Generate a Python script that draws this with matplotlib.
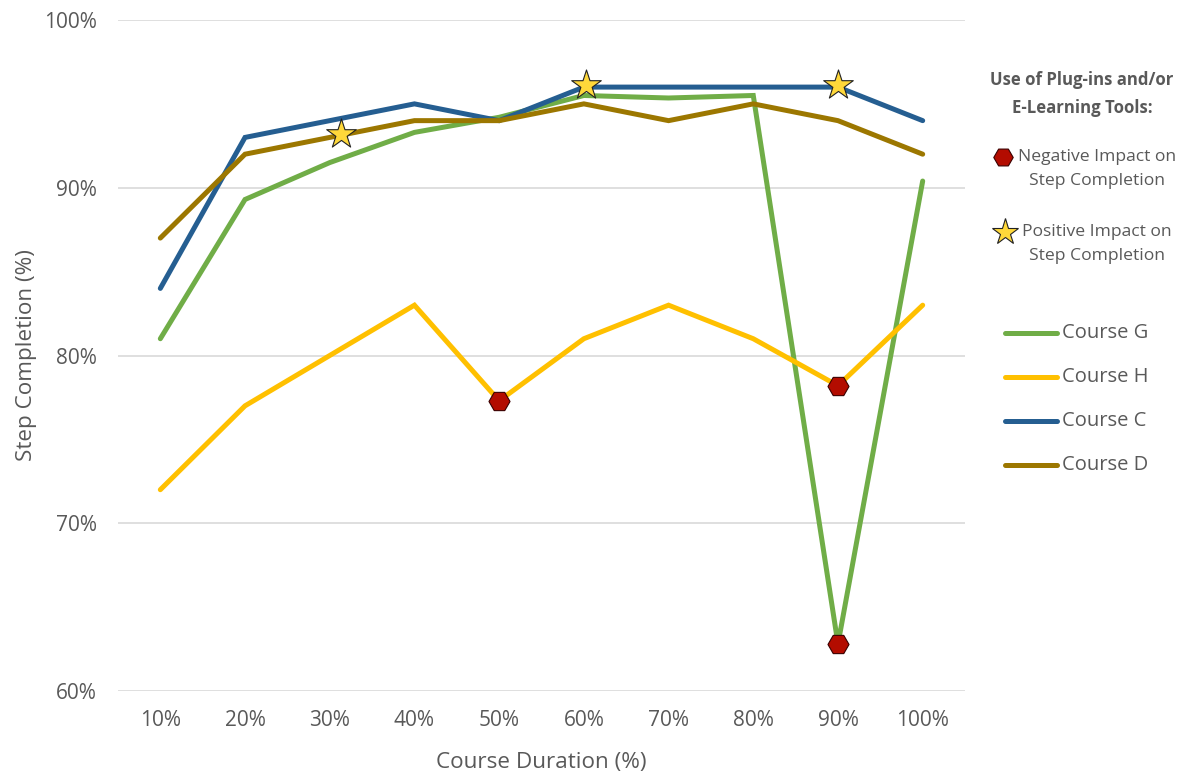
#!/usr/bin/env python3
# -*- coding: utf-8 -*-
"""Step completion vs course duration, with plug-in impact markers."""

import matplotlib
matplotlib.use("Agg")
import matplotlib.pyplot as plt
from matplotlib.lines import Line2D

plt.rcParams['font.family'] = ['Open Sans', 'DejaVu Sans']

# data
durations = ['10%', '20%', '30%', '40%', '50%', '60%', '70%', '80%', '90%', '100%']
course_g = [81.0, 89.3, 91.5, 93.3, 94.2, 95.5, 95.35, 95.5, 62.8, 90.4]
course_h = [72.0, 77.0, 80.0, 83.0, 77.3, 81.0, 83.0, 81.0, 78.2, 83.0]
course_c = [84.0, 93.0, 94.0, 95.0, 94.0, 96.0, 96.0, 96.0, 96.0, 94.0]
course_d = [87.0, 92.0, 93.0, 94.0, 94.0, 95.0, 94.0, 95.0, 94.0, 92.0]

series_names = ['Course G', 'Course H', 'Course C', 'Course D']
series_colors = ['#70AD47', '#FFC000', '#255E91', '#9C7700']

# impact markers (x as category index, y in %)
negative_x = [4.0, 8.0, 8.0]
negative_y = [77.3, 78.2, 62.8]
positive_x = [2.13, 5.03, 8.0]
positive_y = [93.2, 96.1, 96.1]

TEXT = '#595959'
RED = '#B30C00'
STAR = '#FFD83A'

fig = plt.figure(figsize=(12, 7.84), dpi=100)
ax = fig.add_axes([0.0983, 0.1186, 0.7059, 0.8559])

x = list(range(len(durations)))
for vals, name, col in zip([course_g, course_h, course_c, course_d], series_names, series_colors):
    ax.plot(x, vals, color=col, lw=3.6, solid_capstyle='round',
            solid_joinstyle='miter', label=name, zorder=3)

ax.scatter(negative_x, negative_y, marker='H', s=230, color=RED,
           edgecolor='#3a0000', linewidths=0.8, zorder=5)
ax.scatter(positive_x, positive_y, marker='*', s=500, color=STAR,
           edgecolor='#222222', linewidths=0.8, zorder=5)

ax.set_xlim(-0.5, len(durations) - 0.5)
ax.set_ylim(60, 100)
ax.set_xticks(x)
ax.set_xticklabels(durations)
ax.set_yticks([60, 70, 80, 90, 100])
ax.set_yticklabels([f'{v}%' for v in [60, 70, 80, 90, 100]])
ax.tick_params(axis='both', length=0, labelsize=15, colors=TEXT)
ax.tick_params(axis='x', pad=14)
ax.tick_params(axis='y', pad=15)
ax.grid(axis='y', color='#D9D9D9', lw=1.2)
ax.set_axisbelow(True)
for s in ax.spines.values():
    s.set_visible(False)

ax.set_xlabel('Course Duration (%)', fontsize=16.2, color=TEXT, labelpad=15)
ax.set_ylabel('Step Completion (%)', fontsize=16.2, color=TEXT, labelpad=5)

# legend block on the right
fig.text(1082 / 1200, 1 - 94 / 784, 'Use of Plug-ins and/or\nE-Learning Tools:',
         ha='center', va='center', fontsize=12.1, fontweight='bold', color=TEXT,
         linespacing=1.7)

fig.add_artist(Line2D([1003 / 1200], [1 - 157 / 784], marker='H', markersize=14,
                      color=RED, markeredgecolor='#3a0000', markeredgewidth=0.8,
                      linestyle='none', transform=fig.transFigure))
fig.text(1097 / 1200, 1 - 169 / 784, 'Negative Impact on\nStep Completion',
         ha='center', va='center', fontsize=12.6, color=TEXT, linespacing=1.6)

fig.add_artist(Line2D([1005 / 1200], [1 - 232 / 784], marker='*', markersize=20,
                      color=STAR, markeredgecolor='#222222', markeredgewidth=0.8,
                      linestyle='none', transform=fig.transFigure))
fig.text(1097 / 1200, 1 - 244 / 784, 'Positive Impact on\nStep Completion',
         ha='center', va='center', fontsize=12.6, color=TEXT, linespacing=1.6)

for i, (name, col) in enumerate(zip(series_names, series_colors)):
    yy = 1 - (333 + 44 * i) / 784
    fig.add_artist(Line2D([1005 / 1200, 1057 / 1200], [yy, yy], color=col, lw=3.6,
                          solid_capstyle='round', transform=fig.transFigure))
    fig.text(1062 / 1200, yy, name, ha='left', va='center', fontsize=14.5, color=TEXT)

fig.savefig('out.png', dpi=100)
